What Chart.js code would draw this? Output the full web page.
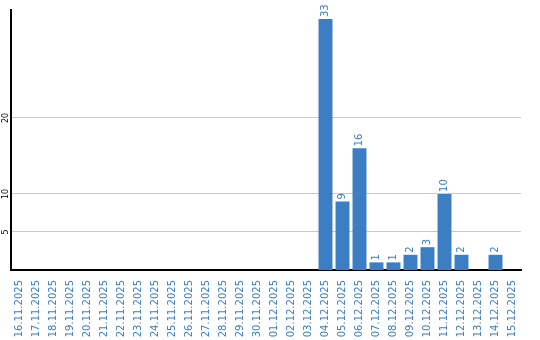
<!DOCTYPE html>
<html>
<head>
<meta charset="utf-8">
<script src="https://cdn.jsdelivr.net/npm/chart.js@4/dist/chart.umd.min.js"></script>
<style>
  html, body { margin: 0; padding: 0; background: #fff; }
  #wrap { width: 540px; height: 340px; }
</style>
</head>
<body>
<div id="wrap"><canvas id="myChart" width="540" height="340"></canvas></div>
<script>
const days = [
    '16.11.2025', '17.11.2025', '18.11.2025', '19.11.2025', '20.11.2025',
    '21.11.2025', '22.11.2025', '23.11.2025', '24.11.2025', '25.11.2025',
    '26.11.2025', '27.11.2025', '28.11.2025', '29.11.2025', '30.11.2025',
    '01.12.2025', '02.12.2025', '03.12.2025', '04.12.2025', '05.12.2025',
    '06.12.2025', '07.12.2025', '08.12.2025', '09.12.2025', '10.12.2025',
    '11.12.2025', '12.12.2025', '13.12.2025', '14.12.2025', '15.12.2025'
];
const counts = [
    0, 0, 0, 0, 0, 0, 0, 0, 0, 0,
    0, 0, 0, 0, 0, 0, 0, 0, 33, 9,
    16, 1, 1, 2, 3, 10, 2, 0, 2, 0
];
const yTicks = [5, 10, 20];
const yMax = 34.2;

const blue = "rgb(59, 126, 196)";

// draws the value above each bar, rotated like the axis labels
const barLabels = {
    id: 'barLabels',
    afterDatasetsDraw(chart) {
        const ctx = chart.ctx;
        const meta = chart.getDatasetMeta(0);
        ctx.save();
        ctx.fillStyle = blue;
        ctx.font = "10px 'DejaVu Sans'";
        ctx.textAlign = 'left';
        ctx.textBaseline = 'middle';
        meta.data.forEach((bar, i) => {
            if (!counts[i]) return;
            ctx.save();
            ctx.translate(bar.x, bar.y - 2);
            ctx.rotate(-Math.PI / 2);
            ctx.fillText(String(counts[i]), 0, 0);
            ctx.restore();
        });
        ctx.restore();
    }
};

let myChart = document.querySelector("#myChart");

let chart = new Chart(myChart, {
    type: "bar",
    data: {
        labels: days,
        datasets: [
            {
                data: counts,
                backgroundColor: blue,
                borderWidth: 0,
                barPercentage: 0.82,
                categoryPercentage: 1.0
            },
        ],
    },
    options: {
        responsive: false,
        animation: false,
        layout: {
            padding: { top: 10, right: 19, left: 0, bottom: 0 }
        },
        scales: {
            x: {
                grid: { display: false },
                border: { display: true, color: '#000', width: 2 },
                ticks: {
                    color: blue,
                    font: { family: 'DejaVu Sans', size: 10 },
                    minRotation: 90,
                    maxRotation: 90,
                    autoSkip: false,
                    padding: 2
                },
                afterFit: (scale) => { scale.height = 70; }
            },
            y: {
                min: 0,
                max: yMax,
                grid: { color: '#c8c8c8', lineWidth: 1, drawTicks: false },
                border: { display: true, color: '#000', width: 2 },
                afterBuildTicks: (scale) => {
                    scale.ticks = yTicks.map(v => ({ value: v }));
                },
                ticks: {
                    color: '#000',
                    font: { family: 'DejaVu Sans', size: 8 },
                    minRotation: 90,
                    maxRotation: 90,
                    crossAlign: 'center',
                    padding: 0
                },
                afterFit: (scale) => { scale.width = 11; }
            },
        },
        plugins: {
            legend: { display: false },
            tooltip: { enabled: false }
        },
    },
    plugins: [barLabels]
});
</script>
</body>
</html>
